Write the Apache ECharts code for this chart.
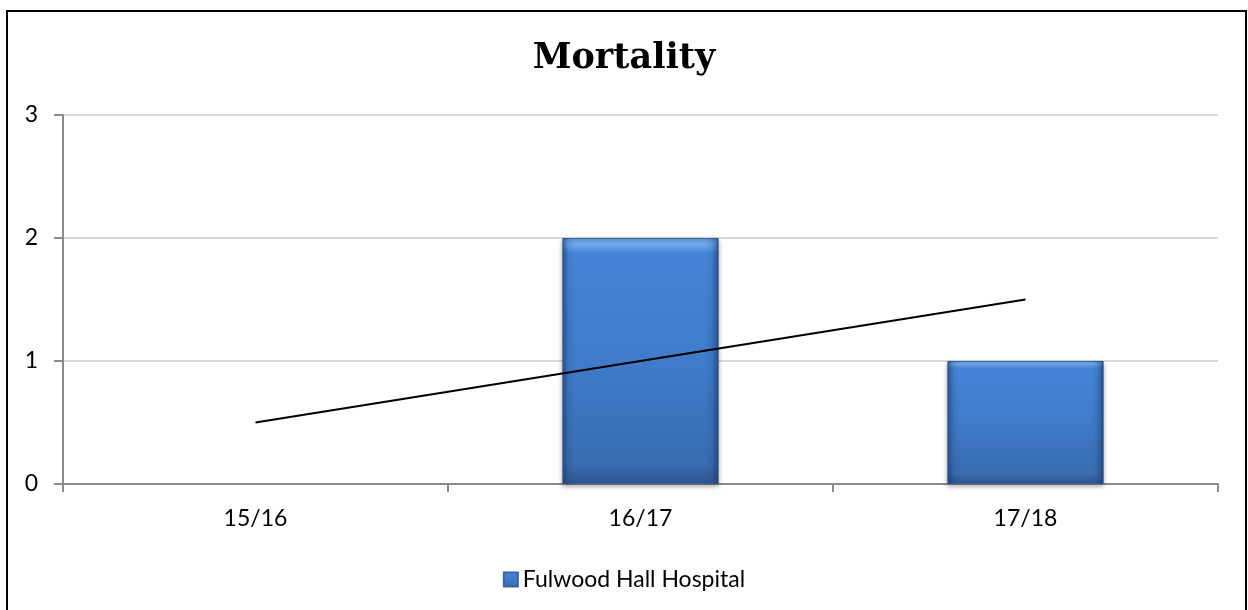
<!DOCTYPE html>
<html>
<head>
<meta charset="utf-8">
<title>Mortality</title>
<script src="https://cdn.jsdelivr.net/npm/echarts@6/dist/echarts.min.js"></script>
<style>
  html, body { margin: 0; padding: 0; background: #ffffff; }
  #chart { width: 1248px; height: 610px; }
</style>
</head>
<body>
<div id="chart"></div>
<script>
// Financial years on the category axis
const categories = ['15/16', '16/17', '17/18'];
// Deaths recorded per year
const mortality = [0, 2, 1];
// Linear trend through the yearly values
const trend = [0.5, 1, 1.5];
// Value axis range
const yTicks = [0, 1, 2, 3];

const seriesName = 'Fulwood Hall Hospital';
const textFont = 'Lato, "Open Sans", sans-serif';

// Bevelled blue bar: vertical shading
const barFill = new echarts.graphic.LinearGradient(0, 0, 0, 1, [
  { offset: 0, color: '#5f9de6' },
  { offset: 0.025, color: '#74adf0' },
  { offset: 0.06, color: '#4585d6' },
  { offset: 0.5, color: '#3f7bc9' },
  { offset: 0.92, color: '#396cb1' },
  { offset: 0.96, color: '#33609f' },
  { offset: 1, color: '#2d5690' }
]);
// Darkened left/right edges laid over the bar
const edgeShade = new echarts.graphic.LinearGradient(0, 0, 1, 0, [
  { offset: 0, color: 'rgba(25,55,105,0.55)' },
  { offset: 0.04, color: 'rgba(25,55,105,0.12)' },
  { offset: 0.08, color: 'rgba(25,55,105,0)' },
  { offset: 0.92, color: 'rgba(25,55,105,0)' },
  { offset: 0.96, color: 'rgba(25,55,105,0.15)' },
  { offset: 1, color: 'rgba(25,55,105,0.6)' }
]);

// A zero-height bar leaves no visible mark (no border or shadow sliver)
const barData = mortality.map(v => (v === 0 ? { value: v, itemStyle: { opacity: 0 } } : v));

const chart = echarts.init(document.getElementById('chart'), null, { renderer: 'canvas' });

chart.setOption({
  animation: false,
  backgroundColor: '#ffffff',
  title: {
    text: 'Mortality',
    left: 'center',
    top: 36,
    textStyle: {
      fontFamily: '"DejaVu Serif", serif',
      fontWeight: 'bold',
      fontSize: 35,
      color: '#000000'
    }
  },
  legend: {
    data: [seriesName],
    left: 'center',
    top: 563,
    itemWidth: 14,
    itemHeight: 14,
    itemGap: 10,
    icon: 'rect',
    textStyle: { fontFamily: textFont, fontSize: 23, color: '#000000', padding: [0, 0, 0, 0] }
  },
  graphic: [{
    type: 'rect',
    silent: true,
    z: 100,
    shape: { x: 7, y: 11, width: 1239, height: 620 },
    style: { fill: 'none', stroke: '#000000', lineWidth: 2 }
  }],
  grid: { left: 63, right: 30, top: 115, bottom: 126 },
  xAxis: {
    type: 'category',
    data: categories,
    boundaryGap: true,
    axisLine: { show: true, lineStyle: { color: '#8a8a8a', width: 2 } },
    axisTick: { show: true, length: 8, alignWithLabel: false, lineStyle: { color: '#8a8a8a', width: 2 } },
    axisLabel: { margin: 23, fontFamily: textFont, fontSize: 23, color: '#000000' },
    splitLine: { show: false }
  },
  yAxis: {
    type: 'value',
    min: yTicks[0],
    max: yTicks[yTicks.length - 1],
    interval: 1,
    axisLine: { show: true, lineStyle: { color: '#8a8a8a', width: 2 } },
    axisTick: { show: true, inside: false, length: 9, lineStyle: { color: '#8a8a8a', width: 2 } },
    axisLabel: { margin: 25, fontFamily: textFont, fontSize: 23, color: '#000000' },
    splitLine: { show: true, lineStyle: { color: '#d9d9d9', width: 2 } }
  },
  series: [
    {
      name: seriesName,
      type: 'bar',
      data: barData,
      barWidth: 156,
      itemStyle: {
        color: barFill,
        borderColor: '#3a65a0',
        borderWidth: 1,
        shadowColor: 'rgba(0,0,0,0.35)',
        shadowBlur: 5,
        shadowOffsetY: 2
      },
      z: 2
    },
    {
      name: 'edge',
      type: 'bar',
      data: barData,
      barWidth: 156,
      barGap: '-100%',
      silent: true,
      itemStyle: { color: edgeShade },
      z: 3
    },
    {
      name: 'Linear trend',
      type: 'line',
      data: trend,
      symbol: 'none',
      silent: true,
      lineStyle: { color: '#000000', width: 2 },
      z: 5
    }
  ]
});
</script>
</body>
</html>
